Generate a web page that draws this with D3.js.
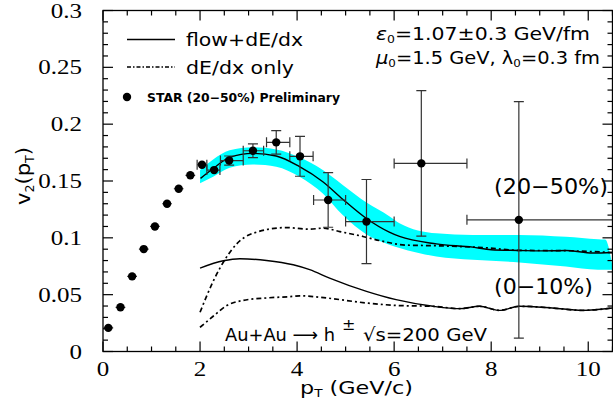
<!DOCTYPE html>
<html>
<head>
<meta charset="utf-8">
<script src="https://cdn.jsdelivr.net/npm/d3@7"></script>
<style>
  body { margin: 0; background: #fff; }
  .tick-label { font-family: "Liberation Serif", serif; font-size: 20px; }
  .txt { font-family: "DejaVu Sans", sans-serif; }
</style>
</head>
<body>
<script>
// STAR (20-50%) preliminary points
var pt   = [0.11, 0.36, 0.60, 0.84, 1.07, 1.32, 1.56, 1.80, 2.04, 2.29, 2.60, 3.09, 3.57, 4.06, 4.64, 5.43, 6.56, 8.57];
var v2   = [0.0208, 0.0389, 0.0661, 0.0901, 0.110, 0.130, 0.1432, 0.155, 0.1643, 0.1596, 0.168, 0.1766, 0.184, 0.1717, 0.1333, 0.1143, 0.1655, 0.1158];
var ptLo = [0.01, 0.26, 0.50, 0.74, 0.97, 1.22, 1.46, 1.70, 1.94, 2.14, 2.42, 2.89, 3.37, 3.85, 4.34, 5.0, 6.0, 7.5];
var ptHi = [0.21, 0.46, 0.70, 0.94, 1.17, 1.42, 1.66, 1.90, 2.14, 2.41, 2.89, 3.31, 3.85, 4.33, 5.0, 6.0, 7.5, 12.0];
var v2Err = [0, 0, 0, 0, 0, 0, 0, 0, 0.002, 0.002, 0.004, 0.006, 0.0104, 0.0175, 0.024, 0.037, 0.064, 0.104];

// band (epsilon0 uncertainty), 20-50%
var bandPt    = [2.0, 2.27, 2.61, 3.09, 3.57, 4.05, 4.53, 4.94, 5.43, 5.9, 6.11, 6.87, 7.62, 8.58, 9.54, 10.2, 10.35, 10.5];
var bandUpper = [0.1596, 0.169, 0.177, 0.1796, 0.1778, 0.1708, 0.1596, 0.1465, 0.131, 0.119, 0.1129, 0.104, 0.1026, 0.1026, 0.101, 0.0988, 0.0985, 0.075];
var bandLower = [0.148, 0.1538, 0.1617, 0.1646, 0.1626, 0.1538, 0.139, 0.120, 0.103, 0.094, 0.091, 0.0836, 0.0807, 0.0784, 0.0748, 0.072, 0.072, 0.0719];

// flow+dE/dx, 20-50%
var flow20Pt = [2.01, 2.27, 2.61, 3.09, 3.57, 4.05, 4.53, 4.94, 5.43, 5.9, 6.11, 6.87, 7.62, 8.0, 8.58, 9.0, 9.54, 10.09, 10.5];
var flow20V2 = [0.1523, 0.161, 0.1708, 0.1743, 0.172, 0.1626, 0.1494, 0.134, 0.117, 0.105, 0.1012, 0.0947, 0.0918, 0.0895, 0.0889, 0.0885, 0.0889, 0.0866, 0.0871];
// dE/dx only, 20-50%
var dedx20Pt = [2.0, 2.27, 2.51, 2.75, 3.09, 3.78, 4.26, 4.53, 4.88, 5.36, 5.7, 6.25, 6.93, 7.96, 8.55, 9.5, 10.5];
var dedx20V2 = [0.0345, 0.0617, 0.0807, 0.0944, 0.104, 0.109, 0.1076, 0.1085, 0.1055, 0.1012, 0.0976, 0.0936, 0.093, 0.091, 0.089, 0.0887, 0.087];
// flow+dE/dx, 0-10%
var flow0Pt = [2.0, 2.48, 2.82, 3.37, 3.92, 4.26, 4.67, 5.43, 6.04, 6.8, 7.35, 7.76, 8.17, 8.58, 9.26, 9.88, 10.5];
var flow0V2 = [0.0734, 0.0798, 0.0816, 0.0801, 0.0763, 0.072, 0.0646, 0.0529, 0.0456, 0.0398, 0.0377, 0.0398, 0.0362, 0.0398, 0.0383, 0.0362, 0.0383];
// dE/dx only, 0-10%
var dedx0Pt = [2.0, 2.27, 2.55, 2.89, 3.37, 3.92, 4.05, 4.6, 5.43, 6.11, 6.8, 7.35, 7.76, 8.17, 8.58, 9.26, 9.88, 10.5];
var dedx0V2 = [0.0213, 0.031, 0.0404, 0.045, 0.0471, 0.0485, 0.049, 0.0471, 0.0427, 0.0404, 0.0398, 0.0377, 0.0398, 0.0362, 0.0398, 0.0383, 0.0362, 0.0383];

var xTicks = [0, 2, 4, 6, 8, 10];
var yTicks = [0, 0.05, 0.1, 0.15, 0.2, 0.25, 0.3];

var width = 613, height = 412;
var plotLeft = 103, plotRight = 612.5, plotTop = 10.5, plotBottom = 351.5;

var svg = d3.select("body").append("svg")
    .attr("width", width)
    .attr("height", height);

var x = d3.scaleLinear().domain([0, 10.5]).range([plotLeft, plotRight]);
var y = d3.scaleLinear().domain([0, 0.3]).range([plotBottom, plotTop]);

svg.append("clipPath").attr("id", "clip")
  .append("rect")
    .attr("x", plotLeft).attr("y", plotTop)
    .attr("width", plotRight - plotLeft).attr("height", plotBottom - plotTop);

var plot = svg.append("g").attr("clip-path", "url(#clip)");

// cyan band
var area = d3.area()
    .x(function(d) { return x(d[0]); })
    .y0(function(d) { return y(d[2]); })
    .y1(function(d) { return y(d[1]); })
    .curve(d3.curveMonotoneX);

plot.append("path")
    .datum(bandPt.map(function(p, i) { return [p, bandUpper[i], bandLower[i]]; }))
    .attr("d", area)
    .attr("fill", "#00ffff");

var line = d3.line()
    .x(function(d) { return x(d[0]); })
    .y(function(d) { return y(d[1]); })
    .curve(d3.curveMonotoneX);

function zip(a, b) { return a.map(function(v, i) { return [v, b[i]]; }); }

var dashDot = "5,3,2,3";
var curves = [
  { data: zip(flow0Pt, flow0V2), dash: null },
  { data: zip(dedx0Pt, dedx0V2), dash: dashDot },
  { data: zip(dedx20Pt, dedx20V2), dash: dashDot },
  { data: zip(flow20Pt, flow20V2), dash: null }
];

curves.forEach(function(c) {
  plot.append("path")
      .datum(c.data)
      .attr("d", line)
      .attr("fill", "none")
      .attr("stroke", "#000")
      .attr("stroke-width", c.dash ? 1.7 : 1.4)
      .attr("stroke-dasharray", c.dash);
});

// error bars
var pts = pt.map(function(p, i) {
  return { x: p, y: v2[i], lo: ptLo[i], hi: ptHi[i], e: v2Err[i], cap: p > 2 };
});

var eb = plot.append("g").attr("stroke", "#333").attr("stroke-width", 1.2);
pts.forEach(function(d) {
  eb.append("line")
      .attr("x1", x(d.lo)).attr("x2", x(d.hi))
      .attr("y1", y(d.y)).attr("y2", y(d.y));
  if (d.e > 0) {
    eb.append("line")
        .attr("x1", x(d.x)).attr("x2", x(d.x))
        .attr("y1", y(d.y - d.e)).attr("y2", y(d.y + d.e));
  }
  if (d.cap) {
    [d.lo, d.hi].forEach(function(xx) {
      eb.append("line")
          .attr("x1", x(xx)).attr("x2", x(xx))
          .attr("y1", y(d.y) - 5).attr("y2", y(d.y) + 5);
    });
    if (d.e > 0.003) {
      [d.y - d.e, d.y + d.e].forEach(function(yy) {
        eb.append("line")
            .attr("x1", x(d.x) - 5).attr("x2", x(d.x) + 5)
            .attr("y1", y(yy)).attr("y2", y(yy));
      });
    }
  }
});

plot.selectAll("circle.pt")
    .data(pts)
  .enter().append("circle")
    .attr("class", "pt")
    .attr("cx", function(d) { return x(d.x); })
    .attr("cy", function(d) { return y(d.y); })
    .attr("r", 4.2)
    .attr("fill", "#000");

// frame
svg.append("rect")
    .attr("x", plotLeft).attr("y", plotTop)
    .attr("width", plotRight - plotLeft).attr("height", plotBottom - plotTop)
    .attr("fill", "none")
    .attr("stroke", "#000")
    .attr("stroke-width", 1.3);

// ticks: x every 0.5, major every 2
var ax = svg.append("g").attr("stroke", "#000").attr("stroke-width", 1.2);
d3.range(0, 10.51, 0.5).forEach(function(t) {
  var len = (Math.abs(t % 2) < 1e-6) ? 10 : 5;
  ax.append("line").attr("x1", x(t)).attr("x2", x(t)).attr("y1", plotBottom).attr("y2", plotBottom - len);
  ax.append("line").attr("x1", x(t)).attr("x2", x(t)).attr("y1", plotTop).attr("y2", plotTop + len);
});
d3.range(0, 30.5, 1).forEach(function(k) {
  var t = k / 100;
  var len = (k % 5 === 0) ? 10 : 5;
  ax.append("line").attr("x1", plotLeft).attr("x2", plotLeft + len).attr("y1", y(t)).attr("y2", y(t));
  ax.append("line").attr("x1", plotRight).attr("x2", plotRight - len).attr("y1", y(t)).attr("y2", y(t));
});

// tick labels (the serif digits are drawn a bit wide)
svg.selectAll("text.xt")
    .data(xTicks)
  .enter().append("text")
    .attr("class", "tick-label")
    .attr("transform", function(d) { return "translate(" + x(d) + ",376) scale(1.25,1)"; })
    .attr("text-anchor", "middle")
    .text(function(d) { return d; });

svg.selectAll("text.yt")
    .data(yTicks)
  .enter().append("text")
    .attr("class", "tick-label")
    .attr("transform", function(d) { return "translate(82," + (y(d) + 7) + ") scale(1.25,1)"; })
    .attr("text-anchor", "end")
    .text(function(d) { return d; });

// axis titles
var xt = svg.append("text").attr("class", "txt").attr("x", 300).attr("y", 394).attr("font-size", 18)
    .attr("textLength", 113).attr("lengthAdjust", "spacingAndGlyphs");
xt.append("tspan").text("p");
xt.append("tspan").attr("font-size", 11).attr("dy", 3).text("T");
xt.append("tspan").attr("dy", -3).text(" (GeV/c)");

var yt = svg.append("text").attr("class", "txt")
    .attr("transform", "translate(30,176) rotate(-90)")
    .attr("text-anchor", "middle")
    .attr("font-size", 20)
    .attr("textLength", 58).attr("lengthAdjust", "spacingAndGlyphs");
yt.append("tspan").text("v");
yt.append("tspan").attr("font-size", 12).attr("dy", 4).text("2");
yt.append("tspan").attr("dy", -4).text("(p");
yt.append("tspan").attr("font-size", 12).attr("dy", 4).text("T");
yt.append("tspan").attr("dy", -4).text(")");

// legend
var leg = svg.append("g");
leg.append("line").attr("x1", 127).attr("x2", 175).attr("y1", 39.5).attr("y2", 39.5)
    .attr("stroke", "#000").attr("stroke-width", 1.4);
leg.append("text").attr("class", "txt").attr("x", 186).attr("y", 46).attr("font-size", 18)
    .attr("textLength", 117).attr("lengthAdjust", "spacingAndGlyphs").text("flow+dE/dx");
leg.append("line").attr("x1", 127).attr("x2", 175).attr("y1", 67).attr("y2", 67)
    .attr("stroke", "#000").attr("stroke-width", 1.6).attr("stroke-dasharray", "4,2,1.5,2");
leg.append("text").attr("class", "txt").attr("x", 186).attr("y", 74).attr("font-size", 18)
    .attr("textLength", 108).attr("lengthAdjust", "spacingAndGlyphs").text("dE/dx only");
leg.append("circle").attr("cx", 127).attr("cy", 97).attr("r", 4.2).attr("fill", "#000");
leg.append("text").attr("class", "txt").attr("x", 147).attr("y", 102).attr("font-size", 12.5)
    .attr("font-weight", "bold").attr("textLength", 193).attr("lengthAdjust", "spacingAndGlyphs")
    .text("STAR (20\u221250%) Preliminary");

// parameters
var p1 = svg.append("text").attr("class", "txt").attr("x", 376).attr("y", 40).attr("font-size", 18)
    .attr("textLength", 214).attr("lengthAdjust", "spacingAndGlyphs");
p1.append("tspan").attr("font-style", "italic").text("\u03b5");
p1.append("tspan").attr("font-size", 11).attr("dy", 3).text("0");
p1.append("tspan").attr("dy", -3).text("=1.07\u00b10.3 GeV/fm");

var p2 = svg.append("text").attr("class", "txt").attr("x", 376).attr("y", 64).attr("font-size", 18)
    .attr("textLength", 224).attr("lengthAdjust", "spacingAndGlyphs");
p2.append("tspan").attr("font-style", "italic").text("\u03bc");
p2.append("tspan").attr("font-size", 11).attr("dy", 3).text("0");
p2.append("tspan").attr("dy", -3).text("=1.5 GeV, \u03bb");
p2.append("tspan").attr("font-size", 11).attr("dy", 3).text("0");
p2.append("tspan").attr("dy", -3).text("=0.3 fm");

// centrality labels
svg.append("text").attr("class", "txt").attr("x", 494).attr("y", 194).attr("font-size", 22)
    .attr("textLength", 114).attr("lengthAdjust", "spacingAndGlyphs").text("(20\u221250%)");
svg.append("text").attr("class", "txt").attr("x", 494).attr("y", 294).attr("font-size", 22)
    .attr("textLength", 99).attr("lengthAdjust", "spacingAndGlyphs").text("(0\u221210%)");

// system label
svg.append("text").attr("class", "txt").attr("x", 225).attr("y", 341).attr("font-size", 18)
    .attr("textLength", 110).attr("lengthAdjust", "spacingAndGlyphs").text("Au+Au \u27f6 h");
svg.append("text").attr("class", "txt").attr("x", 342).attr("y", 330).attr("font-size", 16).text("\u00b1");
svg.append("text").attr("class", "txt").attr("x", 363).attr("y", 341).attr("font-size", 18)
    .attr("textLength", 124).attr("lengthAdjust", "spacingAndGlyphs").text("\u221as=200 GeV");
</script>
</body>
</html>
